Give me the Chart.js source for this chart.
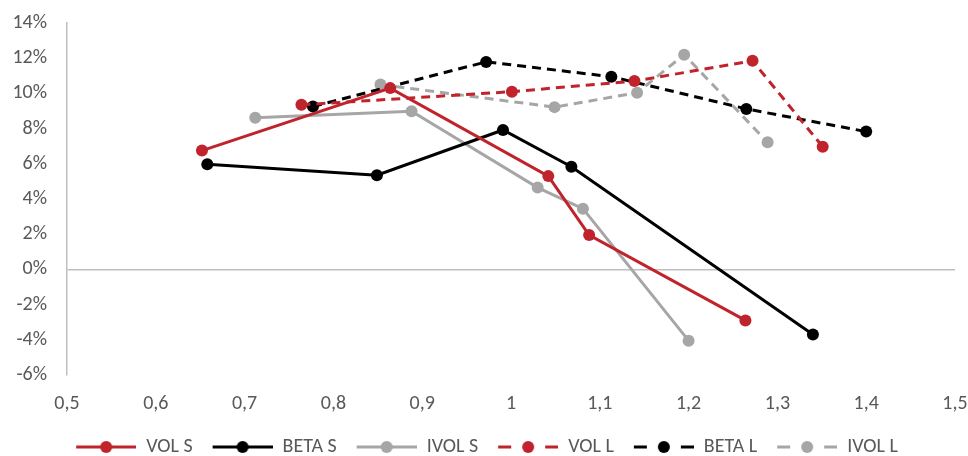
<!DOCTYPE html>
<html>
<head>
<meta charset="utf-8">
<script src="https://cdn.jsdelivr.net/npm/chart.js@4"></script>
<style>
  html, body { margin: 0; padding: 0; background: #fff; }
  #wrap { width: 968px; height: 456px; }
</style>
</head>
<body>
<div id="wrap"><canvas id="graph"></canvas></div>
<script>
// values: x = beta-like ratio, y = return in %
var volS_x  = [0.652, 0.864, 1.042, 1.088, 1.264];
var volS_y  = [6.75, 10.3, 5.3, 1.95, -2.9];
var betaS_x = [0.658, 0.849, 0.991, 1.068, 1.340];
var betaS_y = [5.98, 5.35, 7.92, 5.83, -3.7];
var ivolS_x = [0.712, 0.888, 1.030, 1.081, 1.200];
var ivolS_y = [8.61, 8.99, 4.65, 3.45, -4.05];
var volL_x  = [0.764, 1.001, 1.139, 1.272, 1.351];
var volL_y  = [9.35, 10.1, 10.7, 11.85, 6.97];
var betaL_x = [0.777, 0.972, 1.113, 1.265, 1.400];
var betaL_y = [9.26, 11.79, 10.95, 9.12, 7.83];
var ivolL_x = [0.853, 1.049, 1.142, 1.195, 1.289];
var ivolL_y = [10.5, 9.22, 10.04, 12.2, 7.22];

var seriesNames = ['VOL S', 'BETA S', 'IVOL S', 'VOL L', 'BETA L', 'IVOL L'];
var RED = '#c0232b', BLACK = '#000000', GREY = '#a6a6a6';

function pts(xs, ys) {
    var out = [];
    for (var i = 0; i < xs.length; i++) out.push({x: xs[i], y: ys[i]});
    return out;
}

function makeSet(label, xs, ys, color, dashed) {
    return {
        label: label,
        data: pts(xs, ys),
        showLine: true,
        borderColor: color,
        backgroundColor: color,
        borderWidth: 3,
        borderDash: dashed ? [9, 6] : [],
        pointRadius: 6,
        pointHoverRadius: 6,
        pointBorderWidth: 0,
        tension: 0
    };
}

// little line+dot pictures for the legend (transparent strip on the left = gap between items)
var ICON_GAP = 19;
function legendIcon(color, dashed) {
    var c = document.createElement('canvas');
    c.width = 60 + ICON_GAP; c.height = 14;
    var g = c.getContext('2d');
    g.translate(ICON_GAP, 0);
    g.strokeStyle = color;
    g.lineWidth = 3;
    if (dashed) g.setLineDash([13, 34]);
    g.beginPath();
    g.moveTo(0, 7);
    g.lineTo(60, 7);
    g.stroke();
    g.fillStyle = color;
    g.beginPath();
    g.arc(30, 7, 6, 0, Math.PI * 2);
    g.fill();
    return c;
}

var icons = [
    legendIcon(RED, false), legendIcon(BLACK, false), legendIcon(GREY, false),
    legendIcon(RED, true), legendIcon(BLACK, true), legendIcon(GREY, true)
];

var font = "Carlito, 'Liberation Sans', sans-serif";
Chart.defaults.font.family = font;
Chart.defaults.color = '#595959';

var data = {
    datasets: [
        makeSet(seriesNames[0], volS_x, volS_y, RED, false),
        makeSet(seriesNames[1], betaS_x, betaS_y, BLACK, false),
        makeSet(seriesNames[2], ivolS_x, ivolS_y, GREY, false),
        makeSet(seriesNames[3], volL_x, volL_y, RED, true),
        makeSet(seriesNames[4], betaL_x, betaL_y, BLACK, true),
        makeSet(seriesNames[5], ivolL_x, ivolL_y, GREY, true)
    ]
};

var options = {
    responsive: true,
    maintainAspectRatio: false,
    animation: false,
    layout: { padding: { top: 23, right: 13, left: 0, bottom: -11 } },
    plugins: {
        tooltip: { enabled: false },
        legend: {
            position: 'bottom',
            labels: {
                usePointStyle: true,
                pointStyleWidth: 60 + ICON_GAP,
                boxHeight: 14,
                padding: 1,
                font: { size: 20 },
                color: '#595959',
                generateLabels: function (chart) {
                    var items = Chart.defaults.plugins.legend.labels.generateLabels(chart);
                    items.forEach(function (it, i) {
                        it.pointStyle = icons[i];
                        it.lineWidth = 0;
                    });
                    return items;
                }
            }
        }
    },
    scales: {
        x: {
            type: 'linear',
            min: 0.5,
            max: 1.5,
            ticks: {
                stepSize: 0.1,
                padding: 9,
                font: { size: 20 },
                color: '#595959',
                callback: function (v) {
                    return (Math.round(v * 10) / 10).toString().replace('.', ',');
                }
            },
            grid: { display: false },
            border: { display: false },
            afterFit: function (axis) {
                axis.height = 61;
                axis.paddingRight = 0;
                axis.paddingLeft = 0;
            }
        },
        y: {
            min: -6,
            max: 14,
            ticks: {
                stepSize: 2,
                padding: 20,
                font: { size: 20 },
                color: '#595959',
                callback: function (v) { return v + '%'; }
            },
            grid: {
                drawTicks: false,
                lineWidth: 1.5,
                color: function (c) { return c.tick && c.tick.value === 0 ? '#bfbfbf' : 'rgba(0,0,0,0)'; }
            },
            border: { display: true, color: '#bfbfbf', width: 1.5 },
            afterFit: function (axis) {
                axis.width = 67;
                axis.paddingTop = 0;
                axis.paddingBottom = 0;
            }
        }
    }
};

var ctx = document.getElementById('graph').getContext('2d');
var graph = new Chart(ctx, { type: 'scatter', data: data, options: options });
</script>
</body>
</html>
